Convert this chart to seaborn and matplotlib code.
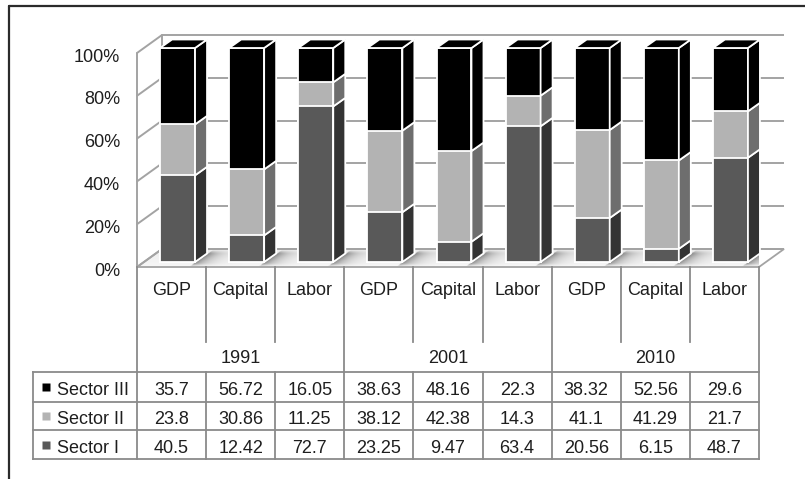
import numpy as np
import pandas as pd
import matplotlib
matplotlib.use("Agg")
import matplotlib.pyplot as plt
import seaborn as sns
from matplotlib.patches import Polygon
from matplotlib.lines import Line2D
from matplotlib.transforms import ScaledTranslation

# ---- data -------------------------------------------------------------
years = ["1991", "2001", "2010"]
measures = ["GDP", "Capital", "Labor"]
sector_iii = [35.7, 56.72, 16.05, 38.63, 48.16, 22.3, 38.32, 52.56, 29.6]
sector_ii = [23.8, 30.86, 11.25, 38.12, 42.38, 14.3, 41.1, 41.29, 21.7]
sector_i = [40.5, 12.42, 72.7, 23.25, 9.47, 63.4, 20.56, 6.15, 48.7]
table_rows = ["Sector III", "Sector II", "Sector I"]
percent_ticks = [0, 20, 40, 60, 80, 100]

# ---- styling ----------------------------------------------------------
front_colors = {"Sector I": "#595959", "Sector II": "#b3b3b3", "Sector III": "#000000"}
side_colors = {"Sector I": "#333333", "Sector II": "#6e6e6e", "Sector III": "#000000"}
grid_color = "#a3a3a3"
table_color = "#8a8a8a"
text_color = "#1e1e1e"
FS = 13

sns.set_theme(style="white")
plt.rcParams["font.family"] = ["Liberation Sans", "DejaVu Sans"]

W, H = 805, 479
fig = plt.figure(figsize=(W / 100, H / 100), dpi=100)
fig.patch.set_facecolor("white")


def px_box(x0, y0, x1, y1):
    """Axes rectangle from pixel edges measured from the top-left corner."""
    return [x0 / W, 1 - y1 / H, (x1 - x0) / W, (y1 - y0) / H]


# front plane of the floor: x from -0.5 to 8.5, y from 0 % to 100 %
ax = fig.add_axes(px_box(137, 53, 759, 267))
ax.set_xlim(-0.5, 8.5)
ax.set_ylim(0, 100)
ux = (759 - 137) / 9.0     # pixels per category
uy = (267 - 53) / 100.0    # pixels per percent

# depth of the box (back wall) and of each bar, in data units
DX, DY = 25 / ux, 18 / uy
bdx, bdy = 12 / ux, 8.5 / uy
bar_shift = ScaledTranslation(6 / 100, 5 / 100, fig.dpi_scale_trans)
bar_tr = ax.transData + bar_shift
bar_width = 0.506

# ---- 100 % stacked shares ---------------------------------------------
items = [f"{m} {y}" for y in years for m in measures]
df = pd.DataFrame({"item": items, "Sector I": sector_i,
                   "Sector II": sector_ii, "Sector III": sector_iii})
total = df[["Sector I", "Sector II", "Sector III"]].sum(axis=1)
for s in ["Sector I", "Sector II", "Sector III"]:
    df[s + " pct"] = df[s] / total * 100
df["top I"] = df["Sector I pct"]
df["top II"] = df["top I"] + df["Sector II pct"]
df["top III"] = df["top II"] + df["Sector III pct"]

# ---- box: floor, walls, gridlines -------------------------------------
x_l, x_r = -0.5, 8.5
floor_pts = [(x_l, 0), (x_r, 0), (x_r + DX, DY), (x_l + DX, DY)]

# soft floor shading: a light base with a shadow streak to the right of
# every bar, running parallel to the floor's slanted sides
nx, ny = 1200, 40
xs = np.linspace(x_l, x_r + DX, nx)
fr = np.linspace(0, 1, ny)
XX, FF = np.meshgrid(xs, fr)
x_eff = XX - FF * DX
shade = np.zeros_like(XX)
half = bar_width / 2
for i in range(len(items)):
    d = x_eff - (i + half)
    streak = np.where(d > 0, np.exp(-d / 0.16), 0.0)
    shade = np.maximum(shade, streak)
depth_win = np.clip(1.6 * np.sin(np.pi * np.clip(FF * 1.05, 0, 1)), 0, 1)
light = 0.97 - 0.045 * FF - 0.42 * shade * depth_win
rgb = np.dstack([light, light, light])
floor_edge = Polygon(floor_pts, closed=True, facecolor="none", edgecolor=grid_color,
                     lw=1.3, zorder=1.2, clip_on=False)
ax.add_patch(floor_edge)
img = ax.imshow(rgb, extent=(x_l, x_r + DX, 0, DY), origin="lower",
                aspect="auto", zorder=1.0, interpolation="bilinear")
img.set_clip_path(floor_edge)

for t in percent_ticks:
    ax.plot([x_l + DX, x_r + DX], [t + DY, t + DY], color=grid_color,
            lw=1.4, zorder=1.1, clip_on=False, solid_capstyle="butt")
    ax.plot([x_l, x_l + DX], [t, t + DY], color=grid_color,
            lw=1.4, zorder=1.1, clip_on=False)
ax.plot([x_l, x_l], [0, 100], color=grid_color, lw=1.4, zorder=1.1, clip_on=False)
ax.plot([x_l + DX, x_l + DX], [DY, 100 + DY], color=grid_color, lw=1.4,
        zorder=1.1, clip_on=False)

# ---- bars: front faces with seaborn, depth faces from the same bars ---
layers = [("Sector III", "top III"), ("Sector II", "top II"), ("Sector I", "top I")]
fronts = {}
for name, col in layers:
    n_before = len(ax.patches)
    sns.barplot(data=df, x="item", y=col, order=items, color=front_colors[name],
                saturation=1, width=bar_width, edgecolor="white", linewidth=1.3,
                ax=ax)
    fronts[name] = ax.patches[n_before:]
ax.set_xlim(-0.5, 8.5)
ax.set_ylim(0, 100)

for name, bars in fronts.items():
    for p in bars:
        p.set_transform(bar_tr)
        p.set_clip_on(False)
        p.set_zorder(3)

bottoms = {"Sector I": np.zeros(len(df)), "Sector II": df["top I"].values,
           "Sector III": df["top II"].values}
tops = {"Sector I": df["top I"].values, "Sector II": df["top II"].values,
        "Sector III": df["top III"].values}
for name in ["Sector I", "Sector II", "Sector III"]:
    for i, p in enumerate(fronts[name]):
        x0 = p.get_x()
        x1 = x0 + p.get_width()
        b, t = bottoms[name][i], tops[name][i]
        side = Polygon([(x1, b), (x1, t), (x1 + bdx, t + bdy), (x1 + bdx, b + bdy)],
                       closed=True, facecolor=side_colors[name], edgecolor="white",
                       lw=1.3, transform=bar_tr, zorder=3, clip_on=False)
        ax.add_patch(side)
        if name == "Sector III":
            lid = Polygon([(x0, t), (x1, t), (x1 + bdx, t + bdy), (x0 + bdx, t + bdy)],
                          closed=True, facecolor="#000000", edgecolor="white",
                          lw=1.3, transform=bar_tr, zorder=3.1, clip_on=False)
            ax.add_patch(lid)

# ---- axis cosmetics ---------------------------------------------------
for sp in ax.spines.values():
    sp.set_visible(False)
ax.patch.set_visible(False)
ax.set_xlabel("")
ax.set_ylabel("")
ax.set_xticks([])
ax.set_yticks(percent_ticks)
ax.set_yticklabels([f"{t}%" for t in percent_ticks])
ax.tick_params(axis="y", length=0, pad=12.3, labelsize=FS, labelcolor=text_color)
label_drop = ScaledTranslation(0, -2 / 100, fig.dpi_scale_trans)
for lab in ax.get_yticklabels():
    lab.set_transform(lab.get_transform() + label_drop)

# ---- category axis and data table -------------------------------------
left_col = 104 / ux
tab = fig.add_axes(px_box(33, 267, 760, 460))
tx_l = x_l - left_col
tab.set_xlim(tx_l, x_r + 1 / ux)
tab.set_ylim(460, 267)
tab.axis("off")

row_lines = [372, 402, 430, 459]
lk = dict(color=table_color, lw=1.3, solid_capstyle="projecting", clip_on=False)
for g in range(len(years) + 1):
    xg = x_l + 3 * g
    tab.plot([xg, xg], [267, row_lines[0]], **lk)
for i in range(len(items)):
    if i % 3 != 2:
        tab.plot([i + 0.5, i + 0.5], [267, 342], **lk)
for yl in row_lines:
    tab.plot([tx_l, x_r], [yl, yl], **lk)
for xv in [tx_l] + [x_l + k for k in range(len(items) + 1)]:
    tab.plot([xv, xv], [row_lines[0], row_lines[-1]], **lk)

for i, item in enumerate(items):
    tab.text(i, 295, measures[i % 3], ha="center", va="baseline",
             fontsize=FS, color=text_color)
for g, y in enumerate(years):
    tab.text(3 * g + 1, 363, y, ha="center", va="baseline",
             fontsize=FS, color=text_color)

row_values = {"Sector III": sector_iii, "Sector II": sector_ii, "Sector I": sector_i}
baselines = [395, 424, 453]
for r, name in enumerate(table_rows):
    yb = baselines[r]
    tab.plot([tx_l + 13 / ux], [yb - 8.5], marker="s", ms=5.6,
             color=front_colors[name], mec="none", clip_on=False)
    tab.text(tx_l + 24 / ux, yb, name, ha="left", va="baseline",
             fontsize=FS, color=text_color)
    for i, v in enumerate(row_values[name]):
        tab.text(i, yb, f"{v:g}", ha="center", va="baseline",
                 fontsize=FS, color=text_color)

# ---- outer frame ------------------------------------------------------
frame_kw = dict(color="#2b2b2b", lw=1.6, transform=fig.transFigure)
fig.add_artist(Line2D([9 / W, 1.0], [1 - 6 / H, 1 - 6 / H], **frame_kw))
fig.add_artist(Line2D([9 / W, 9 / W], [1 - 6 / H, 0.0], **frame_kw))

fig.savefig("out.png", dpi=100, facecolor="white")
